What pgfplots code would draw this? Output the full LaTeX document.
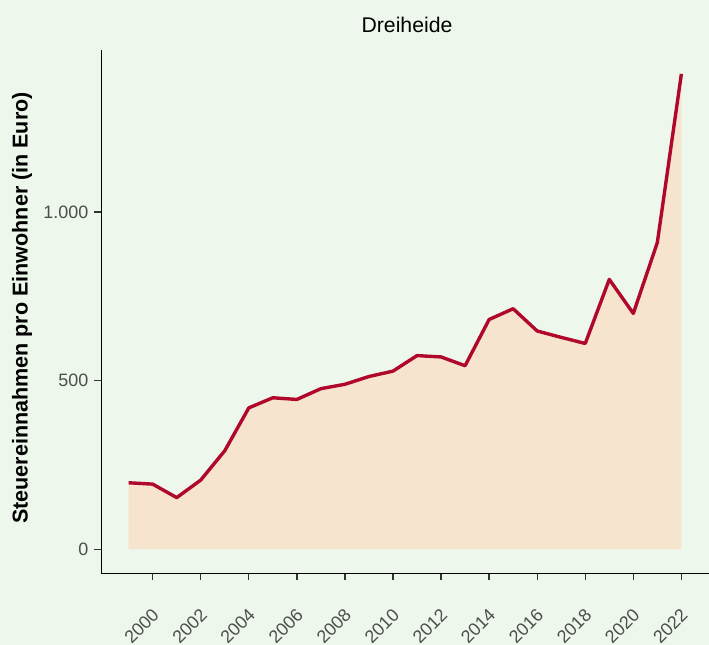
\documentclass[border=0pt]{standalone}
\usepackage{fontspec}
\setmainfont{Liberation Sans}
\usepackage{pgfplots}
\pgfplotsset{compat=1.18}

\definecolor{bg}{HTML}{EDF7EC}
\definecolor{area}{HTML}{F6E4CE}
\definecolor{linered}{HTML}{B0082C}
\definecolor{ticktext}{HTML}{4D4D4D}
\definecolor{tickline}{HTML}{333333}

\begin{document}
\begin{tikzpicture}
\fill[bg] (0,0) rectangle (709bp,645bp);
\useasboundingbox (0,0) rectangle (709bp,645bp);
\begin{axis}[
    at={(101bp,72bp)}, anchor=south west,
    scale only axis,
    width=608bp, height=523bp,
    xmin=1997.85, xmax=2023.15,
    ymin=-70.5, ymax=1480,
    axis x line*=bottom, axis y line*=left,
    axis line style={black, line width=0.9bp},
    xtick={2000,2002,...,2022},
    ytick={0,500,1000},
    tick align=outside,
    major tick length=7bp,
    tick style={tickline, line width=1.3bp},
    /pgf/number format/assume math mode=true,
    /pgf/number format/1000 sep={.},
    x tick label style={/pgf/number format/1000 sep={}},
    xticklabel style={font=\fontsize{18}{21}\selectfont, text=ticktext,
        yshift=-27bp, xshift=-1.5bp, rotate=45, anchor=north east, inner sep=0pt},
    yticklabel style={font=\fontsize{18}{21}\selectfont, text=ticktext,
        anchor=east, inner sep=0pt, xshift=-5.5bp},
    clip=false,
]
\addplot[draw=none, fill=area] coordinates {
(1999,0) (1999,197) (2000,193) (2001,153) (2002,205) (2003,292) (2004,419)
(2005,449) (2006,444) (2007,476) (2008,489) (2009,512) (2010,528)
(2011,574) (2012,570) (2013,544) (2014,681) (2015,713) (2016,647)
(2017,628) (2018,610) (2019,800) (2020,699) (2021,909) (2022,1409) (2022,0)
} -- cycle;
\addplot[linered, line width=3.4bp, line join=round] coordinates {
(1999,197) (2000,193) (2001,153) (2002,205) (2003,292) (2004,419)
(2005,449) (2006,444) (2007,476) (2008,489) (2009,512) (2010,528)
(2011,574) (2012,570) (2013,544) (2014,681) (2015,713) (2016,647)
(2017,628) (2018,610) (2019,800) (2020,699) (2021,909) (2022,1409)
};
\end{axis}
\node[anchor=base, font=\fontsize{21.3}{25}\selectfont] at (407bp,612bp) {Dreiheide};
\node[rotate=90, anchor=base, font=\bfseries\fontsize{21.6}{25}\selectfont] at (27.5bp,337bp) {Steuereinnahmen pro Einwohner (in Euro)};
\end{tikzpicture}
\end{document}
